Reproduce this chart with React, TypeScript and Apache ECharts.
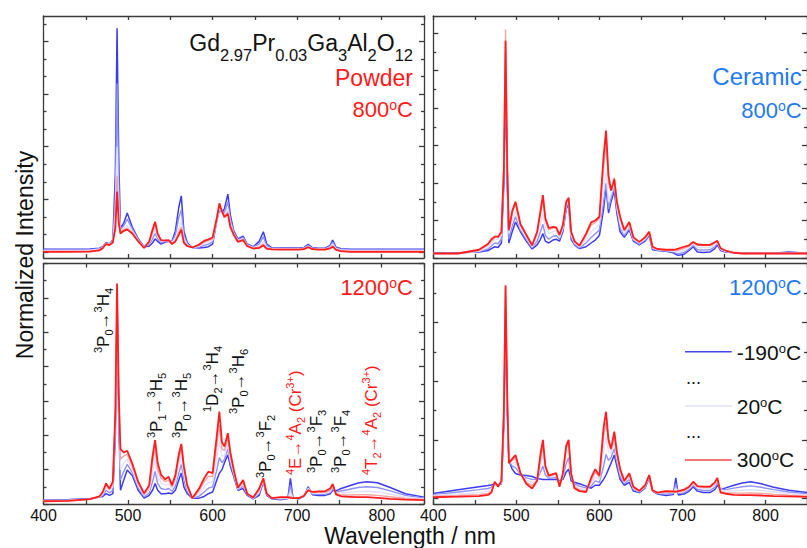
import React, { useEffect, useRef } from "react";
import * as echarts from "echarts";

// ---------------- DATA ----------------
const wavelengths = [400, 430, 455, 466, 470, 474, 478, 482, 485, 487, 489, 491, 495, 499, 505, 512, 519, 525, 529, 532, 535, 539, 544, 548, 552, 556, 560, 563, 566, 570, 576, 584, 590, 595, 600, 605, 608, 611, 614, 618, 621, 625, 630, 636, 641, 648, 655, 660, 664, 670, 680, 689, 692, 695, 702, 708, 713, 718, 725, 733, 739, 742, 746, 752, 762, 772, 782, 795, 810, 828, 850];

const temperatures = ["-190°C", "-100°C", "20°C", "160°C", "300°C"];

// Powder, 800 °C
const powder800_m190 = [.010,.010,.011,.014,.020, .035,.030,.045,.30,.85, .35,.09,.11,.148,.095, .05,.02,.022,.035,.05, .04,.03,.038,.04,.042, .08,.17,.213,.08,.035, .017,.015,.017,.02,.03, .12,.16,.15,.165,.22, .14,.08,.05,.06,.03, .02,.04,.077,.03,.016, .015,.015,.015,.015,.015, .017,.029,.017,.014,.014, .025,.045,.018,.012,.01, .01,.01,.01,.01,.01, .01];
const powder800_m100 = [.008,.008,.009,.012,.018, .033,.030,.042,.22,.64, .26,.085,.10,.125,.088, .047,.02,.03,.05,.07, .05,.035,.04,.042,.04, .065,.13,.16,.065,.03, .017,.018,.025,.03,.038, .12,.165,.15,.15,.19, .125,.075,.046,.055,.028, .018,.03,.058,.024,.014, .013,.013,.013,.013,.013, .015,.025,.015,.012,.012, .022,.037,.015,.01,.008, .008,.008,.008,.008,.008, .008];
const powder800_p20 = [.006,.006,.007,.010,.016, .032,.028,.040,.14,.40, .17,.08,.09,.10,.08, .044,.018,.035,.065,.09, .06,.04,.042,.043,.036, .05,.09,.115,.05,.027, .017,.022,.033,.038,.045, .12,.17,.15,.14,.165, .11,.07,.043,.05,.026, .016,.022,.04,.018,.012, .011,.011,.011,.011,.011, .013,.021,.013,.011,.011, .018,.03,.012,.008,.006, .006,.006,.006,.006,.006, .006];
const powder800_p160 = [.003,.003,.004,.008,.015, .031,.027,.038,.11,.29, .13,.075,.085,.09,.075, .042,.016,.038,.075,.105, .065,.042,.043,.044,.033, .043,.075,.095,.04,.024, .017,.025,.038,.044,.05, .125,.178,.152,.135,.152, .10,.068,.04,.047,.024, .014,.018,.03,.015,.011, .01,.01,.01,.01,.01, .012,.019,.012,.01,.01, .016,.024,.01,.005,.003, .003,.003,.003,.003,.003, .003];
const powder800_p300 = [0,0,.001,.006,.014, .03,.026,.036,.09,.23, .11,.07,.08,.085,.07, .04,.015,.04,.085,.115, .07,.045,.044,.045,.03, .04,.065,.085,.035,.022, .017,.028,.042,.048,.055, .13,.185,.155,.132,.145, .095,.065,.038,.045,.022, .013,.015,.025,.012,.01, .009,.009,.009,.009,.009, .011,.018,.011,.009,.009, .014,.02,.008,.003,0, 0,0,0,0,0, 0];

// Ceramic, 800 °C
const ceramic800_m190 = [.014,.014,.016,.02,.025, .03,.028,.04,.2,.49, .2,.04,.07,.096,.07, .045,.024,.035,.05,.065, .045,.04,.048,.05,.045, .07,.13,.145,.05,.035, .025,.03,.04,.048,.06, .13,.19,.12,.15,.18, .12,.07,.055,.075,.045, .035,.045,.06,.022,.02, .018,.014,.01,.007,.01, .02,.03,.016,.015,.016, .025,.035,.02,.016,.014, .013,.013,.013,.013,.016, .013];
const ceramic800_m100 = [.013,.013,.017,.024,.032, .04,.038,.05,.22,.52, .22,.05,.085,.11,.075, .05,.027,.045,.07,.09, .06,.05,.058,.06,.05, .075,.135,.15,.055,.037, .027,.04,.055,.065,.075, .15,.2,.13,.16,.19, .13,.08,.06,.08,.048, .037,.048,.063,.025,.021, .019,.016,.013,.011,.015, .024,.034,.022,.021,.022, .03,.039,.022,.017,.014, .013,.013,.013,.013,.014, .013];
const ceramic800_p20 = [.012,.012,.018,.03,.04, .05,.05,.06,.24,.56, .24,.065,.1,.125,.08, .055,.03,.055,.09,.12, .08,.065,.07,.072,.055, .08,.14,.155,.06,.04, .03,.05,.07,.08,.09, .18,.23,.15,.17,.2, .14,.09,.065,.085,.05, .04,.05,.066,.028,.022, .02,.018,.017,.016,.02, .028,.038,.028,.027,.028, .035,.042,.024,.018,.014, .013,.013,.013,.013,.013, .013];
const ceramic800_p160 = [.012,.012,.02,.035,.046, .055,.055,.065,.25,.61, .26,.075,.12,.145,.088, .06,.033,.065,.115,.155, .1,.075,.08,.08,.06, .085,.145,.163,.068,.043, .032,.06,.088,.095,.105, .24,.31,.2,.18,.215, .15,.105,.072,.095,.055, .042,.055,.07,.03,.023, .021,.021,.02,.021,.026, .032,.042,.034,.033,.033, .04,.046,.026,.019,.014, .012,.012,.012,.012,.012, .012];
const ceramic800_p300 = [.012,.012,.022,.038,.05, .057,.057,.07,.24,.58, .25,.074,.125,.15,.09, .062,.034,.07,.125,.168, .105,.08,.083,.082,.062, .088,.15,.16,.07,.045, .033,.065,.095,.1,.11, .27,.34,.22,.18,.21, .15,.11,.075,.096,.055, .043,.055,.07,.03,.024, .022,.022,.023,.025,.03, .034,.043,.036,.035,.035, .042,.046,.026,.02,.014, .012,.012,.012,.012,.012, .012];

// Powder, 1200 °C
const powder1200_m190 = [.012,.013,.015,.02,.022, .03,.025,.03,.2,.58, .25,.04,.07,.099,.083, .04,.017,.025,.04,.06, .04,.03,.03,.032,.03, .04,.07,.09,.05,.03, .017,.017,.022,.03,.035, .07,.09,.1,.12,.143, .11,.08,.04,.045,.025, .015,.025,.065,.025,.015, .012,.016,.075,.018,.015, .022,.05,.027,.025,.025, .03,.04,.038,.045,.053, .061,.065,.062,.048,.03, .02];
const powder1200_m100 = [.011,.012,.014,.02,.025, .04,.032,.04,.22,.6, .27,.07,.095,.115,.092, .047,.021,.032,.065,.095, .06,.045,.042,.045,.037, .052,.09,.115,.07,.037, .017,.023,.035,.046,.05, .1,.135,.12,.13,.16, .12,.085,.042,.052,.027, .016,.03,.068,.027,.016, .014,.016,.055,.017,.016, .022,.047,.029,.028,.028, .033,.045,.034,.038,.043, .048,.05,.048,.038,.025, .017];
const powder1200_p20 = [.01,.011,.014,.02,.028, .05,.038,.05,.24,.61, .29,.1,.12,.13,.1, .054,.025,.04,.09,.13, .08,.06,.055,.058,.044, .064,.11,.14,.09,.044, .017,.03,.05,.062,.065, .13,.18,.14,.14,.175, .13,.09,.044,.058,.029, .017,.035,.07,.028,.017, .016,.017,.035,.017,.017, .023,.045,.031,.031,.031, .036,.05,.032,.032,.034, .036,.037,.035,.029,.02, .015];
const powder1200_p160 = [.009,.01,.014,.021,.032, .056,.042,.06,.26,.63, .31,.13,.14,.145,.11, .06,.028,.048,.12,.165, .1,.075,.065,.07,.05, .075,.13,.16,.105,.05, .017,.038,.065,.08,.08, .17,.23,.16,.155,.19, .14,.095,.046,.064,.03, .018,.04,.072,.03,.017, .018,.018,.022,.017,.017, .023,.042,.033,.034,.034, .04,.055,.03,.026,.026, .027,.027,.025,.021,.016, .013];
const powder1200_p300 = [.008,.009,.014,.022,.035, .06,.045,.065,.27,.642, .32,.16,.15,.155,.118, .065,.031,.055,.14,.186, .12,.085,.072,.079,.055, .085,.145,.175,.11,.055, .017,.045,.075,.094,.09, .2,.269,.18,.167,.206, .15,.1,.047,.07,.03, .019,.045,.075,.03,.017, .02,.02,.018,.017,.017, .024,.04,.035,.037,.037, .045,.058,.028,.022,.021, .02,.02,.018,.015,.013, .011];

// Ceramic, 1200 °C
const ceramic1200_m190 = [.017,.03,.04,.044,.046, .05,.045,.05,.25,.62, .3,.13,.1,.085,.08, .078,.075,.068,.066,.065, .065,.065,.065,.065,.06, .065,.09,.1,.06,.055, .05,.042,.035,.045,.045, .065,.08,.1,.12,.148, .11,.065,.045,.055,.025, .02,.035,.07,.025,.015, .01,.013,.07,.012,.015, .025,.04,.025,.02,.02, .03,.045,.03,.036,.045, .053,.057,.05,.038,.028, .02];
const ceramic1200_m100 = [.013,.022,.03,.034,.038, .05,.043,.052,.27,.66, .32,.128,.11,.105,.082, .07,.065,.065,.09,.11, .08,.07,.07,.072,.056, .07,.12,.14,.07,.05, .042,.036,.042,.06,.055, .11,.15,.13,.14,.17, .125,.075,.05,.065,.03, .022,.037,.072,.026,.017, .015,.017,.05,.017,.02, .03,.045,.031,.027,.027, .038,.053,.03,.03,.035, .04,.043,.038,.03,.022, .016];
const ceramic1200_p20 = [.01,.015,.02,.025,.03, .052,.042,.055,.29,.69, .34,.125,.12,.125,.084, .062,.055,.062,.11,.15, .095,.075,.075,.078,.052, .075,.15,.17,.078,.045, .035,.03,.05,.075,.065, .16,.21,.16,.155,.19, .14,.085,.055,.072,.034, .024,.04,.075,.027,.018, .019,.02,.035,.021,.024, .034,.05,.036,.034,.034, .045,.06,.028,.025,.026, .028,.03,.027,.022,.016, .012];
const ceramic1200_p160 = [.007,.01,.013,.017,.024, .055,.041,.058,.3,.72, .35,.122,.13,.14,.085, .055,.045,.06,.13,.18, .105,.077,.08,.083,.046, .08,.17,.19,.083,.04, .029,.025,.06,.09,.072, .21,.26,.19,.165,.21, .155,.095,.058,.08,.037, .025,.042,.078,.028,.019, .022,.022,.026,.023,.027, .037,.054,.04,.038,.038, .05,.066,.024,.02,.018, .018,.019,.017,.014,.011, .008];
const ceramic1200_p300 = [.004,.006,.008,.012,.02, .057,.04,.06,.3,.728, .36,.12,.135,.148,.086, .05,.034,.06,.15,.2, .11,.078,.083,.086,.04, .085,.18,.2,.086,.035, .025,.022,.07,.1,.078, .24,.296,.2,.17,.228, .16,.1,.06,.086,.04, .026,.045,.08,.028,.02, .025,.024,.022,.025,.03, .04,.057,.042,.04,.04, .055,.07,.02,.016,.012, .011,.011,.01,.008,.007, .005];

const xTickValues = [400, 450, 500, 550, 600, 650, 700, 750, 800, 850];
const xTickLabels = [400, 500, 600, 700, 800];

const transitionLabels = [
  "{sup|3}{m|P}{sub|0}{m|→}{sup|3}{m|H}{sub|4}",
  "{sup|3}{m|P}{sub|1}{m|→}{sup|3}{m|H}{sub|5}",
  "{sup|3}{m|P}{sub|0}{m|→}{sup|3}{m|H}{sub|5}",
  "{sup|1}{m|D}{sub|2}{m|→}{sup|3}{m|H}{sub|4}",
  "{sup|3}{m|P}{sub|0}{m|→}{sup|3}{m|H}{sub|6}",
  "{sup|3}{m|P}{sub|0}{m|→}{sup|3}{m|F}{sub|2}",
  "{sup|4}{m|E→}{sup|4}{m|A}{sub|2}{m| (Cr}{sup|3+}{m|)}",
  "{sup|3}{m|P}{sub|0}{m|→}{sup|3}{m|F}{sub|3}",
  "{sup|3}{m|P}{sub|0}{m|→}{sup|3}{m|F}{sub|4}",
  "{sup|4}{m|T}{sub|2}{m|→}{sup|4}{m|A}{sub|2}{m| (Cr}{sup|3+}{m|)}",
];

// ---------------- LAYOUT / STYLE ----------------
const FONT = "'Liberation Sans', Arial, Helvetica, sans-serif";
const BLUE_TEXT = "#1f7af0";
const RED_TEXT = "#ff1a1a";
const lineColors = ["#3b3bef", "#8f91f4", "#e0e1fb", "#f5a3a3", "#ff1e1e"];
const lineWidths = [1.5, 1.4, 1.4, 1.4, 1.8];

const panels = [
  {
    series: [powder800_m190, powder800_m100, powder800_p20, powder800_p160, powder800_p300],
    grid: { left: 43.5, top: 16, width: 380.5, height: 242 },
    yMin: -0.023, yMax: 0.897,
    majors: [0, 0.2, 0.4, 0.6, 0.8],
    minors: [0.0667, 0.1333, 0.2667, 0.3333, 0.4667, 0.5333, 0.6667, 0.7333, 0.8667],
    xLabels: false,
  },
  {
    series: [ceramic800_m190, ceramic800_m100, ceramic800_p20, ceramic800_p160, ceramic800_p300],
    grid: { left: 433.3, top: 16, width: 380.3, height: 242 },
    yMin: 0, yMax: 0.646,
    majors: [0, 0.1, 0.2, 0.3, 0.4, 0.5, 0.6],
    minors: [0.05, 0.15, 0.25, 0.35, 0.45, 0.55],
    xLabels: false,
  },
  {
    series: [powder1200_m190, powder1200_m100, powder1200_p20, powder1200_p160, powder1200_p300],
    grid: { left: 43.5, top: 263.5, width: 380.5, height: 240.5 },
    yMin: 0, yMax: 0.7,
    majors: [0, 0.1, 0.2, 0.3, 0.4, 0.5, 0.6, 0.7],
    minors: [0.05, 0.15, 0.25, 0.35, 0.45, 0.55, 0.65],
    xLabels: true,
  },
  {
    series: [ceramic1200_m190, ceramic1200_m100, ceramic1200_p20, ceramic1200_p160, ceramic1200_p300],
    grid: { left: 433.3, top: 263.5, width: 380.3, height: 240.5 },
    yMin: -0.019, yMax: 0.802,
    majors: [0, 0.2, 0.4, 0.6],
    minors: [0.1, 0.3, 0.5, 0.7],
    xLabels: true,
  },
];

const transitionLayout = [
  { x: 103.3, y: 353, color: "#111" },
  { x: 156.7, y: 438, color: "#111" },
  { x: 181.7, y: 438, color: "#111" },
  { x: 212.5, y: 412, color: "#111" },
  { x: 238.3, y: 414, color: "#111" },
  { x: 265, y: 478, color: "#111" },
  { x: 295, y: 475, color: RED_TEXT },
  { x: 316.7, y: 473, color: "#111" },
  { x: 340, y: 473, color: "#111" },
  { x: 371.7, y: 475, color: RED_TEXT },
];

const AXIS_COLOR = "#3a3a3a";

function buildOption() {
  const grid: any[] = [];
  const xAxis: any[] = [];
  const yAxis: any[] = [];
  const series: any[] = [];
  const lineStyle = { color: AXIS_COLOR, width: 1.3 };

  panels.forEach((p, i) => {
    grid.push({ ...p.grid, containLabel: false });
    ["bottom", "top"].forEach((pos) => {
      xAxis.push({
        type: "value",
        gridIndex: i,
        position: pos,
        min: 400,
        max: 850,
        axisLine: { show: true, onZero: false, lineStyle },
        axisTick: { show: true, inside: true, length: 4, customValues: xTickValues, lineStyle },
        axisLabel: {
          show: pos === "bottom" && p.xLabels,
          customValues: xTickLabels,
          color: "#111",
          fontSize: 16,
          fontFamily: FONT,
          margin: 3,
        },
        splitLine: { show: false },
      });
    });
    const yBase = {
      type: "value",
      gridIndex: i,
      min: p.yMin,
      max: p.yMax,
      axisLabel: { show: false },
      splitLine: { show: false },
    };
    // order: left major, right major, left minor, right minor
    yAxis.push({ ...yBase, position: "left", axisLine: { show: true, onZero: false, lineStyle }, axisTick: { show: true, inside: true, length: 5, customValues: p.majors, lineStyle } });
    yAxis.push({ ...yBase, position: "right", axisLine: { show: true, onZero: false, lineStyle }, axisTick: { show: true, inside: true, length: 5, customValues: p.majors, lineStyle } });
    yAxis.push({ ...yBase, position: "left", axisLine: { show: false, onZero: false }, axisTick: { show: true, inside: true, length: 3, customValues: p.minors, lineStyle } });
    yAxis.push({ ...yBase, position: "right", axisLine: { show: false, onZero: false }, axisTick: { show: true, inside: true, length: 3, customValues: p.minors, lineStyle } });

    p.series.forEach((vals, k) => {
      series.push({
        type: "line",
        name: temperatures[k],
        xAxisIndex: 2 * i,
        yAxisIndex: 4 * i,
        data: wavelengths.map((w, j) => [w, vals[j]]),
        showSymbol: false,
        symbol: "none",
        silent: true,
        clip: true,
        lineStyle: { color: lineColors[k], width: lineWidths[k] },
        z: 2 + k,
      });
    });
  });

  const mainRich = (size: number, lh: number) => ({ fontSize: size, lineHeight: lh, fontFamily: FONT, verticalAlign: "middle" });
  const degRich = (size: number) => ({
    m: mainRich(size, size),
    o: { fontSize: Math.round(size * 0.64), lineHeight: Math.round(size * 0.5), fontFamily: FONT, verticalAlign: "top" },
  });
  const degText = (s: string) => `{m|${s}}{o|o}{m|C}`;

  const graphic: any[] = [
    // axis titles
    { type: "text", x: 25, y: 255, rotation: Math.PI / 2, style: { text: "Normalized Intensity", fontSize: 23, fontFamily: FONT, fill: "#111", align: "center", verticalAlign: "middle" } },
    { type: "text", x: 410, y: 536, style: { text: "Wavelength / nm", fontSize: 23, fontFamily: FONT, fill: "#111", align: "center", verticalAlign: "middle" } },
    // title formula
    {
      type: "text", x: 413, y: 21.4,
      style: {
        text: "{m|Gd}{s|2.97}{m|Pr}{s|0.03}{m|Ga}{s|3}{m|Al}{s|2}{m|O}{s|12}",
        fill: "#111", align: "right", verticalAlign: "top", fontFamily: FONT, fontSize: 23,
        rich: {
          m: { fontSize: 23, lineHeight: 42.6, fontFamily: FONT, verticalAlign: "middle" },
          s: { fontSize: 16.5, lineHeight: 12, fontFamily: FONT, verticalAlign: "bottom" },
        },
      },
    },
    { type: "text", x: 413, y: 77.5, style: { text: "Powder", fill: RED_TEXT, fontSize: 23, fontFamily: FONT, align: "right", verticalAlign: "middle" } },
    { type: "text", x: 413, y: 109.4, style: { text: degText("800"), fill: RED_TEXT, fontSize: 22, fontFamily: FONT, align: "right", verticalAlign: "middle", rich: degRich(22) } },
    { type: "text", x: 801.7, y: 76.7, style: { text: "Ceramic", fill: BLUE_TEXT, fontSize: 24, fontFamily: FONT, align: "right", verticalAlign: "middle" } },
    { type: "text", x: 801.7, y: 110.4, style: { text: degText("800"), fill: BLUE_TEXT, fontSize: 22, fontFamily: FONT, align: "right", verticalAlign: "middle", rich: degRich(22) } },
    { type: "text", x: 413, y: 287.4, style: { text: degText("1200"), fill: RED_TEXT, fontSize: 22, fontFamily: FONT, align: "right", verticalAlign: "middle", rich: degRich(22) } },
    { type: "text", x: 801.7, y: 287.4, style: { text: degText("1200"), fill: BLUE_TEXT, fontSize: 22, fontFamily: FONT, align: "right", verticalAlign: "middle", rich: degRich(22) } },
    // legend
    { type: "line", shape: { x1: 685, y1: 351.7, x2: 731.7, y2: 351.7 }, style: { stroke: "#4545ee", lineWidth: 1.6 } },
    { type: "text", x: 736.7, y: 352, style: { text: degText("-190"), fill: "#111", fontSize: 21, fontFamily: FONT, align: "left", verticalAlign: "middle", rich: degRich(21) } },
    { type: "text", x: 686, y: 378, style: { text: "...", fill: "#111", fontSize: 18, fontFamily: FONT, align: "left", verticalAlign: "middle" } },
    { type: "line", shape: { x1: 685, y1: 406, x2: 731.7, y2: 406 }, style: { stroke: "#dfe0fa", lineWidth: 1.6 } },
    { type: "text", x: 736.7, y: 406, style: { text: degText("20"), fill: "#111", fontSize: 21, fontFamily: FONT, align: "left", verticalAlign: "middle", rich: degRich(21) } },
    { type: "text", x: 686, y: 432, style: { text: "...", fill: "#111", fontSize: 18, fontFamily: FONT, align: "left", verticalAlign: "middle" } },
    { type: "line", shape: { x1: 685, y1: 460, x2: 731.7, y2: 460 }, style: { stroke: "#f04848", lineWidth: 1.6 } },
    { type: "text", x: 736.7, y: 459.4, style: { text: degText("300"), fill: "#111", fontSize: 21, fontFamily: FONT, align: "left", verticalAlign: "middle", rich: degRich(21) } },
  ];

  const annRich = {
    m: { fontSize: 17, lineHeight: 22, fontFamily: FONT, verticalAlign: "middle" },
    sup: { fontSize: 11, lineHeight: 11, fontFamily: FONT, verticalAlign: "top" },
    sub: { fontSize: 11, lineHeight: 11, fontFamily: FONT, verticalAlign: "bottom" },
  };
  transitionLabels.forEach((t, k) => {
    const l = transitionLayout[k];
    graphic.push({
      type: "text",
      x: l.x,
      y: l.y,
      rotation: Math.PI / 2,
      style: { text: t, fill: l.color, fontSize: 17, fontFamily: FONT, align: "left", verticalAlign: "middle", rich: annRich },
    });
  });

  return {
    animation: false,
    backgroundColor: "#ffffff",
    grid,
    xAxis,
    yAxis,
    series,
    graphic,
  };
}

export default function App() {
  const ref = useRef<HTMLDivElement>(null);
  useEffect(() => {
    if (!ref.current) return;
    const chart = echarts.init(ref.current, undefined, { renderer: "svg", width: 807, height: 548 });
    chart.setOption(buildOption() as any);
    return () => chart.dispose();
  }, []);
  return (
    <div
      ref={ref}
      style={{ position: "fixed", left: 0, top: 0, width: 807, height: 548, background: "#fff" }}
    />
  );
}
